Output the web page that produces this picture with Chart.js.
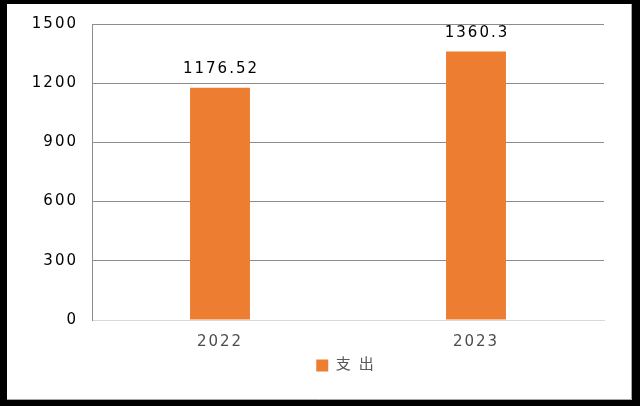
<!DOCTYPE html>
<html>
<head>
<meta charset="utf-8">
<script src="https://cdn.jsdelivr.net/npm/chart.js@4.4.1/dist/chart.umd.min.js"></script>
<style>
  html, body { margin: 0; padding: 0; background: #000; }
  canvas { display: block; }
</style>
</head>
<body>
<canvas id="chart" width="640" height="406"></canvas>
<script>
const years = ["2022", "2023"];
const spending = [1176.52, 1360.3];
const seriesName = "支出";
const yTicks = [0, 300, 600, 900, 1200, 1500];

// black frame with white card, plus letter spacing for the Verdana look
const framePlugin = {
  id: "frame",
  beforeUpdate(chart) {
    chart.ctx.letterSpacing = "2px";
  },
  afterLayout(chart) {
    // legend sits centred under the plot area, not the whole canvas
    chart.legend.left += 41;
    chart.legend.right += 41;
  },
  beforeDraw(chart) {
    const c = chart.ctx;
    c.letterSpacing = "2px";
    c.save();
    c.fillStyle = "#000";
    c.fillRect(0, 0, chart.width, chart.height);
    c.fillStyle = "#fff";
    c.fillRect(7, 4, 625, 396);
    c.strokeStyle = "#a6a6a6";
    c.lineWidth = 1;
    c.beginPath();
    c.moveTo(631.5, 4);
    c.lineTo(631.5, 399.5);
    c.lineTo(7, 399.5);
    c.stroke();
    c.restore();
  },
};

// value labels above each bar
const valueLabels = {
  id: "valueLabels",
  afterDatasetsDraw(chart) {
    const c = chart.ctx;
    c.save();
    c.font = "15px 'DejaVu Sans'";
    c.fillStyle = "#000";
    c.textAlign = "center";
    c.textBaseline = "bottom";
    chart.getDatasetMeta(0).data.forEach((bar, i) => {
      c.fillText(String(spending[i]), bar.x + 1, bar.y - 11);
    });
    c.restore();
  },
};

const ctx = document.getElementById("chart").getContext("2d");
const myChart = new Chart(ctx, {
  type: "bar",
  data: {
    labels: years,
    datasets: [
      {
        label: seriesName,
        data: spending,
        backgroundColor: "#ED7D31",
        borderWidth: 0,
        barPercentage: 0.234,
        categoryPercentage: 1,
      },
    ],
  },
  options: {
    responsive: false,
    animation: false,
    layout: {
      padding: { left: 0, right: 36, top: 24, bottom: 23 },
    },
    plugins: {
      tooltip: { enabled: false },
      legend: {
        position: "bottom",
        labels: {
          boxWidth: 12,
          boxHeight: 12,
          padding: 10,
          color: "#595959",
          font: { family: "'DejaVu Sans', 'Noto Sans CJK SC'", size: 15 },
        },
      },
    },
    scales: {
      x: {
        grid: { display: false, drawTicks: false },
        border: { display: true, color: "#d9d9d9", width: 1 },
        ticks: {
          color: "#4d4d4d",
          padding: 13,
          font: { family: "'DejaVu Sans'", size: 15 },
        },
        afterFit(scale) {
          scale.height = 28;
        },
      },
      y: {
        min: 0,
        max: 1500,
        afterBuildTicks(scale) {
          scale.ticks = yTicks.map((v) => ({ value: v }));
        },
        grid: {
          drawTicks: false,
          color: (c) => (c.tick && c.tick.value === 0 ? "#d9d9d9" : "#8c8c8c"),
        },
        border: { display: true, color: "#8c8c8c", width: 1 },
        ticks: {
          color: "#000",
          padding: 14,
          font: { family: "'DejaVu Sans'", size: 15 },
          callback: (v) => String(v),
        },
        afterFit(scale) {
          scale.width = 92;
        },
      },
    },
  },
  plugins: [framePlugin, valueLabels],
});

// wider spacing between the two legend characters
const legendDraw = myChart.legend.draw.bind(myChart.legend);
myChart.legend.draw = function () {
  ctx.save();
  ctx.letterSpacing = "8px";
  legendDraw();
  ctx.restore();
};
myChart.draw();
</script>
</body>
</html>
